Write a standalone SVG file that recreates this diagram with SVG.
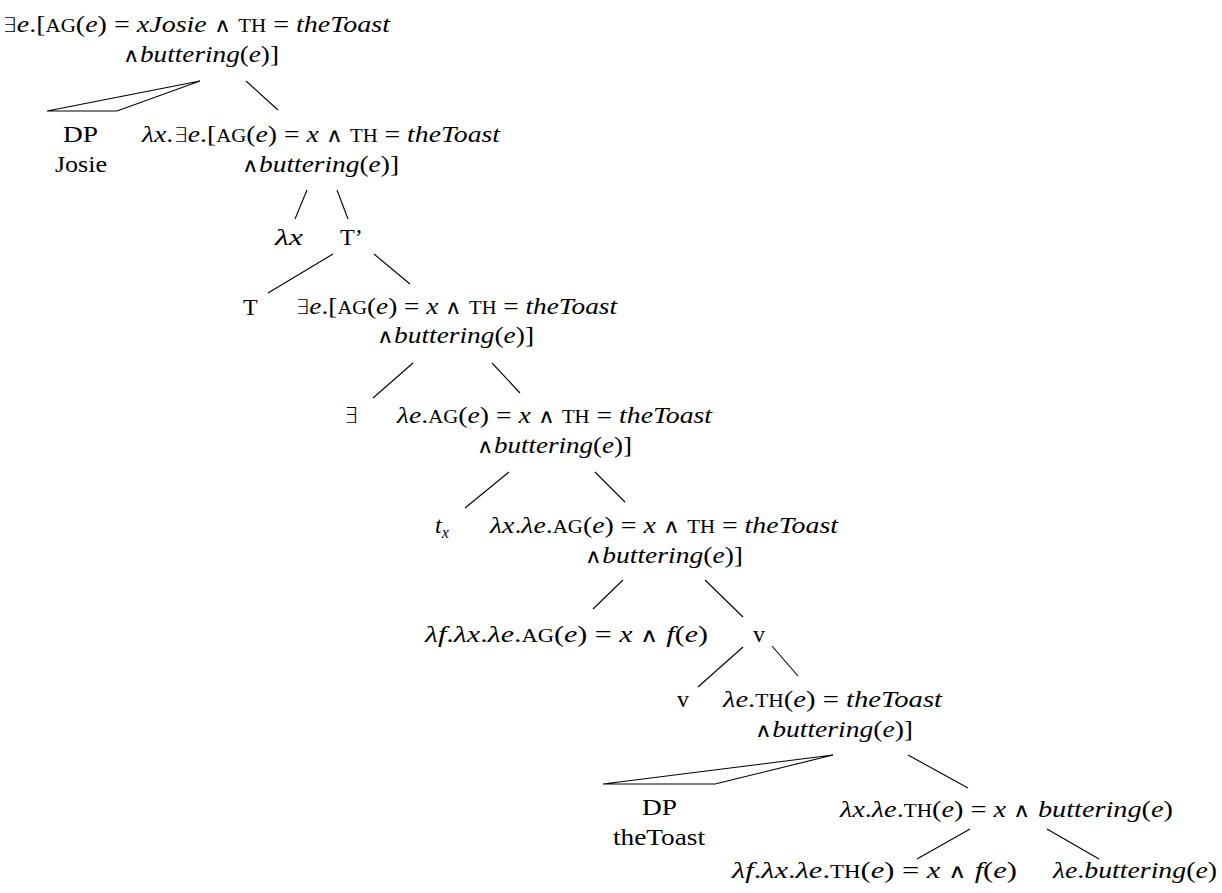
<svg xmlns="http://www.w3.org/2000/svg" width="1222" height="893" viewBox="0 0 1222 893">
  <style>
    text { font-family: "Liberation Serif", "DejaVu Serif", serif; font-size: 24px; fill: #000; }
    .i { font-style: italic; }
    .sc { font-size: 18px; }
    .sub { font-size: 16px; font-style: italic; }
    .op { font-family: "DejaVu Sans", sans-serif; font-weight: 200; font-size: 20px; }
    .edge { stroke: #000; stroke-width: 1.1; fill: none; }
  </style>
  <rect width="1222" height="893" fill="#fff"/>

  <g id="connectors">
    <polygon class="edge" points="200,81 47,111 117,111"/>
    <line class="edge" x1="246" y1="81" x2="278" y2="110"/>
    <line class="edge" x1="307" y1="190" x2="295" y2="219"/>
    <line class="edge" x1="337" y1="190" x2="348" y2="219"/>
    <line class="edge" x1="333" y1="254" x2="268" y2="293"/>
    <line class="edge" x1="374" y1="254" x2="410" y2="284"/>
    <line class="edge" x1="413" y1="363" x2="373" y2="398"/>
    <line class="edge" x1="492" y1="363" x2="520" y2="393"/>
    <line class="edge" x1="509" y1="472" x2="465" y2="508"/>
    <line class="edge" x1="595" y1="472" x2="625" y2="502"/>
    <line class="edge" x1="623" y1="580" x2="593" y2="609"/>
    <line class="edge" x1="705" y1="580" x2="743" y2="617"/>
    <line class="edge" x1="743" y1="647" x2="698" y2="687"/>
    <line class="edge" x1="772" y1="646" x2="798" y2="676"/>
    <polygon class="edge" points="833,755 603,784 715,784"/>
    <line class="edge" x1="908" y1="755" x2="968" y2="788"/>
    <line class="edge" x1="970" y1="829" x2="917" y2="859"/>
    <line class="edge" x1="1047" y1="829" x2="1099" y2="859"/>
  </g>

  <!-- root: existential closure with the subject -->
  <g id="n-root">
    <text x="2" y="32" textLength="388" lengthAdjust="spacingAndGlyphs"><tspan class="op">∃</tspan><tspan class="i">e</tspan>.[<tspan class="sc">AG</tspan>(<tspan class="i">e</tspan>) = <tspan class="i">xJosie</tspan> <tspan class="op">∧</tspan> <tspan class="sc">TH</tspan> = <tspan class="i">theToast</tspan></text>
    <text x="123" y="62" textLength="156" lengthAdjust="spacingAndGlyphs"><tspan class="op">∧</tspan><tspan class="i">buttering</tspan>(<tspan class="i">e</tspan>)]</text>
  </g>

  <g id="n-dp-josie">
    <text x="63" y="142" textLength="35" lengthAdjust="spacingAndGlyphs">DP</text>
    <text x="55" y="172" textLength="52" lengthAdjust="spacingAndGlyphs">Josie</text>
  </g>

  <g id="n-lambda-x-exists">
    <text x="142" y="142" textLength="358" lengthAdjust="spacingAndGlyphs"><tspan class="i">λx</tspan>.<tspan class="op">∃</tspan><tspan class="i">e</tspan>.[<tspan class="sc">AG</tspan>(<tspan class="i">e</tspan>) = <tspan class="i">x</tspan> <tspan class="op">∧</tspan> <tspan class="sc">TH</tspan> = <tspan class="i">theToast</tspan></text>
    <text x="242" y="172" textLength="157" lengthAdjust="spacingAndGlyphs"><tspan class="op">∧</tspan><tspan class="i">buttering</tspan>(<tspan class="i">e</tspan>)]</text>
  </g>

  <g id="n-lambda-x">
    <text x="275" y="245" class="i" textLength="28" lengthAdjust="spacingAndGlyphs">λx</text>
  </g>

  <g id="n-tbar">
    <text x="340" y="245">T’</text>
  </g>

  <g id="n-t">
    <text x="243" y="315">T</text>
  </g>

  <g id="n-exists-closure">
    <text x="295" y="314" textLength="322" lengthAdjust="spacingAndGlyphs"><tspan class="op">∃</tspan><tspan class="i">e</tspan>.[<tspan class="sc">AG</tspan>(<tspan class="i">e</tspan>) = <tspan class="i">x</tspan> <tspan class="op">∧</tspan> <tspan class="sc">TH</tspan> = <tspan class="i">theToast</tspan></text>
    <text x="377" y="343" textLength="157" lengthAdjust="spacingAndGlyphs"><tspan class="op">∧</tspan><tspan class="i">buttering</tspan>(<tspan class="i">e</tspan>)]</text>
  </g>

  <g id="n-exists">
    <text x="344" y="423" class="op" style="font-size:22px">∃</text>
  </g>

  <g id="n-lambda-e-ag">
    <text x="397" y="423" textLength="315" lengthAdjust="spacingAndGlyphs"><tspan class="i">λe</tspan>.<tspan class="sc">AG</tspan>(<tspan class="i">e</tspan>) = <tspan class="i">x</tspan> <tspan class="op">∧</tspan> <tspan class="sc">TH</tspan> = <tspan class="i">theToast</tspan></text>
    <text x="477" y="453" textLength="155" lengthAdjust="spacingAndGlyphs"><tspan class="op">∧</tspan><tspan class="i">buttering</tspan>(<tspan class="i">e</tspan>)]</text>
  </g>

  <g id="n-trace">
    <text x="435" y="533" class="i">t<tspan class="sub" dy="5">x</tspan></text>
  </g>

  <g id="n-lambda-xe-ag">
    <text x="490" y="533" textLength="348" lengthAdjust="spacingAndGlyphs"><tspan class="i">λx</tspan>.<tspan class="i">λe</tspan>.<tspan class="sc">AG</tspan>(<tspan class="i">e</tspan>) = <tspan class="i">x</tspan> <tspan class="op">∧</tspan> <tspan class="sc">TH</tspan> = <tspan class="i">theToast</tspan></text>
    <text x="585" y="563" textLength="158" lengthAdjust="spacingAndGlyphs"><tspan class="op">∧</tspan><tspan class="i">buttering</tspan>(<tspan class="i">e</tspan>)]</text>
  </g>

  <g id="n-voice">
    <text x="425" y="642" textLength="283" lengthAdjust="spacingAndGlyphs"><tspan class="i">λf</tspan>.<tspan class="i">λx</tspan>.<tspan class="i">λe</tspan>.<tspan class="sc">AG</tspan>(<tspan class="i">e</tspan>) = <tspan class="i">x</tspan> <tspan class="op">∧</tspan> <tspan class="i">f</tspan>(<tspan class="i">e</tspan>)</text>
  </g>

  <g id="n-v-upper">
    <text x="753" y="642">v</text>
  </g>

  <g id="n-v-lower">
    <text x="677" y="707">v</text>
  </g>

  <g id="n-lambda-e-th">
    <text x="723" y="707" textLength="219" lengthAdjust="spacingAndGlyphs"><tspan class="i">λe</tspan>.<tspan class="sc">TH</tspan>(<tspan class="i">e</tspan>) = <tspan class="i">theToast</tspan></text>
    <text x="755" y="737" textLength="158" lengthAdjust="spacingAndGlyphs"><tspan class="op">∧</tspan><tspan class="i">buttering</tspan>(<tspan class="i">e</tspan>)]</text>
  </g>

  <g id="n-dp-thetoast">
    <text x="642" y="815" textLength="35" lengthAdjust="spacingAndGlyphs">DP</text>
    <text x="613" y="845" textLength="92" lengthAdjust="spacingAndGlyphs">theToast</text>
  </g>

  <g id="n-lambda-xe-th">
    <text x="840" y="817" textLength="333" lengthAdjust="spacingAndGlyphs"><tspan class="i">λx</tspan>.<tspan class="i">λe</tspan>.<tspan class="sc">TH</tspan>(<tspan class="i">e</tspan>) = <tspan class="i">x</tspan> <tspan class="op">∧</tspan> <tspan class="i">buttering</tspan>(<tspan class="i">e</tspan>)</text>
  </g>

  <g id="n-theme">
    <text x="732" y="878" textLength="285" lengthAdjust="spacingAndGlyphs"><tspan class="i">λf</tspan>.<tspan class="i">λx</tspan>.<tspan class="i">λe</tspan>.<tspan class="sc">TH</tspan>(<tspan class="i">e</tspan>) = <tspan class="i">x</tspan> <tspan class="op">∧</tspan> <tspan class="i">f</tspan>(<tspan class="i">e</tspan>)</text>
  </g>

  <g id="n-buttering">
    <text x="1053" y="878" textLength="164" lengthAdjust="spacingAndGlyphs"><tspan class="i">λe</tspan>.<tspan class="i">buttering</tspan>(<tspan class="i">e</tspan>)</text>
  </g>
</svg>
